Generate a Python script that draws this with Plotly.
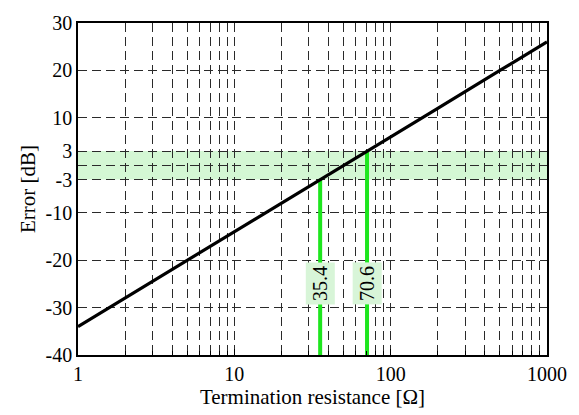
import math
import plotly.graph_objects as go

# Data
resistance = [1, 2, 5, 10, 20, 35.4, 50, 70.6, 100, 200, 500, 1000]
error_db = [-34, -28, -20, -14, -8, -3, 0, 3, 6, 12, 20, 26]

cutoff_r = [35.4, 70.6]
cutoff_db = [-3, 3]
cutoff_labels = ["35.4", "70.6"]
label_y = -25

band_low, band_high = -3, 3

y_ticks = [-40, -30, -20, -10, -3, 0, 3, 10, 20, 30]
y_text = ["-40", "-30", "-20", "-10", "-3", "", "3", "10", "20", "30"]
x_ticks = [1, 10, 100, 1000]
x_text = ["1", "10", "100", "1000"]
x_minor = [2, 3, 4, 5, 6, 7, 8, 9, 20, 30, 40, 50, 60, 70, 80, 90,
           200, 300, 400, 500, 600, 700, 800, 900]

FONT = "Liberation Serif, Times New Roman, serif"
GREEN = "#1ee61e"
GRIDC = "#2a2a2a"
DASH = "9px,5px"

fig = go.Figure()

for r, db in zip(cutoff_r, cutoff_db):
    fig.add_trace(go.Scatter(x=[r, r], y=[-40, db], mode="lines",
                             line=dict(color=GREEN, width=4), showlegend=False,
                             hoverinfo="skip"))

fig.add_trace(go.Scatter(x=resistance, y=error_db, mode="lines",
                         line=dict(color="black", width=3.2), showlegend=False))

fig.add_shape(type="rect", xref="paper", yref="y", x0=0, x1=1,
              y0=band_low, y1=band_high, fillcolor="#d4f7d4",
              line=dict(width=0), layer="below")

for r, t in zip(cutoff_r, cutoff_labels):
    fig.add_annotation(x=math.log10(r), y=label_y, xref="x", yref="y", text=t,
                       textangle=-90, showarrow=False, bgcolor="#d8f5d8",
                       font=dict(family=FONT, size=20, color="black"),
                       borderpad=3)

fig.update_layout(
    width=579, height=415,
    margin=dict(l=78, r=30, t=12, b=59),
    paper_bgcolor="white", plot_bgcolor="white",
    font=dict(family=FONT, size=20, color="black"),
)

fig.update_xaxes(
    type="log", range=[0, 3],
    tickmode="array", tickvals=x_ticks, ticktext=x_text,
    showgrid=True, gridcolor=GRIDC, griddash=DASH, gridwidth=1,
    ticks="inside", ticklen=6, tickcolor="black",
    minor=dict(tickmode="array", tickvals=x_minor, showgrid=True,
               gridcolor=GRIDC, griddash=DASH, gridwidth=1,
               ticks="inside", ticklen=4, tickcolor="black"),
    showline=True, linecolor="black", linewidth=1.5, mirror=True,
    zeroline=False,
    title=dict(text="Termination resistance [Ω]", font=dict(family=FONT, size=21), standoff=4),
    tickfont=dict(family=FONT, size=20),
)

fig.update_yaxes(
    range=[-40, 30],
    tickmode="array", tickvals=y_ticks, ticktext=y_text,
    showgrid=True, gridcolor=GRIDC, griddash=DASH, gridwidth=1,
    showline=True, linecolor="black", linewidth=1.5, mirror=True,
    zeroline=False, ticks="",
    title=dict(text="Error [dB]", font=dict(family=FONT, size=21), standoff=4),
    tickfont=dict(family=FONT, size=20),
)

fig.write_html("out.html")
